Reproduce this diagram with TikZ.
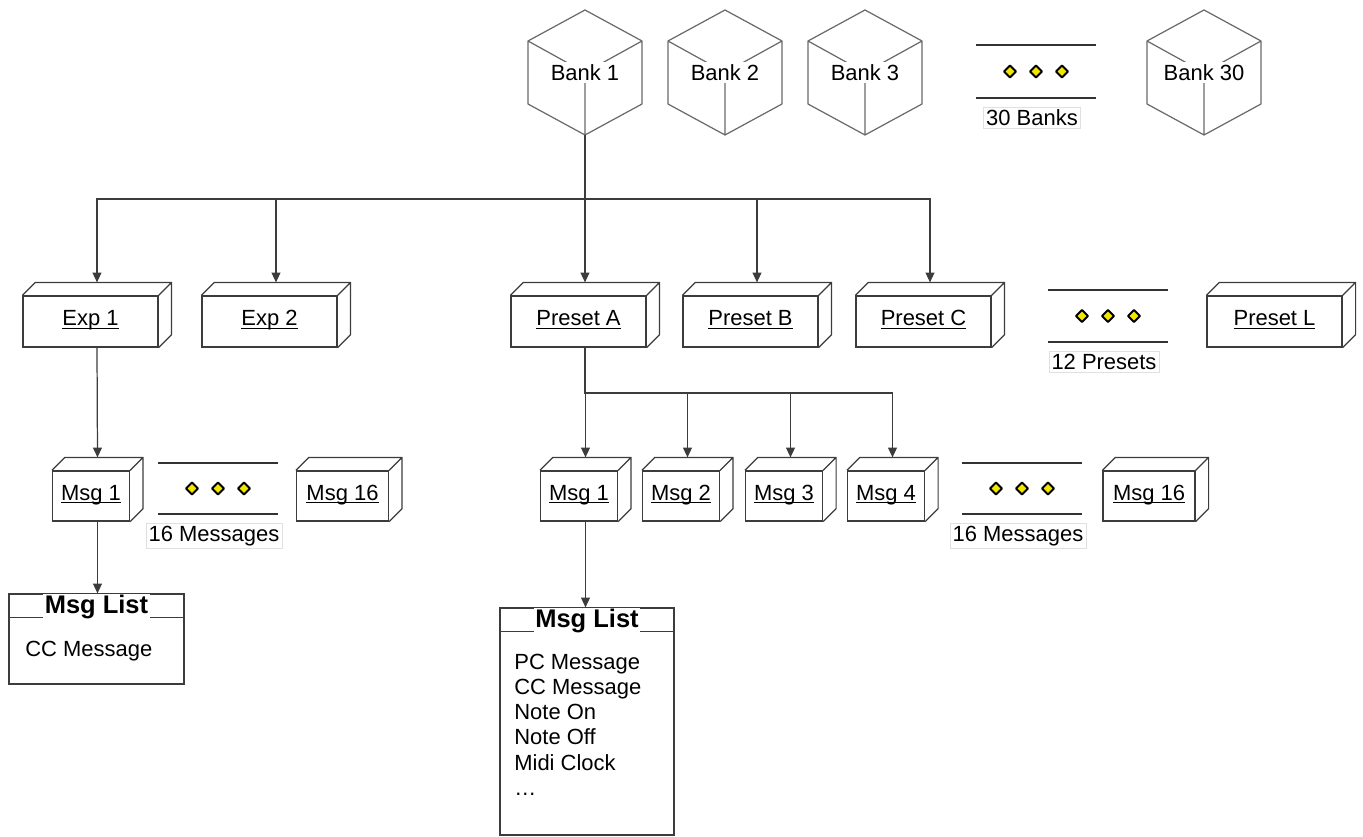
\documentclass[tikz,border=0pt]{standalone}
\usepackage{fontspec}
\setmainfont{Liberation Sans}
\usetikzlibrary{calc,arrows.meta}

\definecolor{edge}{HTML}{3C3C3C}
\definecolor{cubeedge}{HTML}{6A6A6A}
\definecolor{dotfill}{HTML}{F2E600}
\newcommand\bdepth{13}
\newcommand\ul[1]{\underline{\raisebox{0pt}[\height][0pt]{#1}}\rule[-4pt]{0pt}{4pt}}

\tikzset{
  box3d/.style={draw=edge, fill=white, line width=0.7pt, inner sep=0pt, minimum height=1.02cm},
  bigbox/.style={box3d, minimum width=2.7cm},
  msgbox/.style={box3d, minimum width=1.54cm, minimum height=1cm},
  listbox/.style={draw=edge, line width=0.7pt, inner sep=0pt},
  conn/.style={draw=edge, line width=0.7pt, -{Triangle[length=5.5pt,width=5pt]}},
  bus/.style={draw=edge, line width=1.1pt},
  countlabel/.style={draw=black!12, fill=white, inner sep=1.5pt},
  listtitle/.style={fill=white, font=\fontsize{14.5}{17}\selectfont\bfseries, inner sep=1pt},
  listitem/.style={anchor=base west, inner sep=0pt},
}

\begin{document}
\begin{tikzpicture}[x=0.02cm, y=-0.02cm, every node/.style={font=\fontsize{12.5}{15}\selectfont}]
  \useasboundingbox (0,0) rectangle (1363,837);

  % Banks (cubes)
  \foreach \x/\name/\txt in {585/bank1/Bank 1, 725/bank2/Bank 2, 865/bank3/Bank 3, 1204/bank30/Bank 30}{
    \draw[cubeedge, line width=0.7pt, line join=round]
      (\x,10) -- (\x+57,41) -- (\x+57,104) -- (\x,135) -- (\x-57,104) -- (\x-57,41) -- cycle
      (\x-57,41) -- (\x,72.5) -- (\x+57,41) (\x,72.5) -- (\x,135);
    \node[fill=white, inner sep=1.5pt] (\name) at (\x,72.5) {\txt};
    \coordinate (\name-base) at (\x,135);
  }

  % Ellipsis markers with counts
  \foreach \x/\yt/\yb/\n/\txt in {1036/45/98/banks/30 Banks, 1108/290/342/presets/12 Presets,
                                 218/463/514/msgsL/16 Messages, 1022/463/514/msgsR/16 Messages}{
    \draw[line width=1.2pt, black!80] (\x-60,\yt) -- (\x+60,\yt) (\x-60,\yb) -- (\x+60,\yb);
    \foreach \dx in {-26,0,26}
      \draw[fill=dotfill, line width=1.1pt, line join=round] (\x+\dx,{(\yt+\yb)/2-6}) -- ++(6,6) -- ++(-6,6) -- ++(-6,-6) -- cycle;
    \node[countlabel, anchor=north] (\n) at (\x-4,\yb+9) {\txt};
  }

  % Expression and preset boxes
  \node[bigbox] (exp1) at (90.5,321.5) {\ul{Exp 1}};
  \node[bigbox] (exp2) at (269.5,321.5) {\ul{Exp 2}};
  \node[bigbox] (presetA) at (578.5,321.5) {\ul{Preset A}};
  \node[bigbox] (presetB) at (750.5,321.5) {\ul{Preset B}};
  \node[bigbox] (presetC) at (923.5,321.5) {\ul{Preset C}};
  \node[bigbox] (presetL) at (1274.5,321.5) {\ul{Preset L}};

  % Message boxes
  \node[msgbox] (msgL1) at (91,496) {\ul{Msg 1}};
  \node[msgbox, minimum width=1.84cm] (msgL16) at (342.5,496) {\ul{Msg 16}};
  \node[msgbox] (msgR1) at (579,496) {\ul{Msg 1}};
  \node[msgbox] (msgR2) at (681,496) {\ul{Msg 2}};
  \node[msgbox] (msgR3) at (784,496) {\ul{Msg 3}};
  \node[msgbox] (msgR4) at (886,496) {\ul{Msg 4}};
  \node[msgbox, minimum width=1.84cm] (msgR16) at (1149,496) {\ul{Msg 16}};

  % depth of the boxes
  \foreach \n in {exp1,exp2,presetA,presetB,presetC,presetL,msgL1,msgL16,msgR1,msgR2,msgR3,msgR4,msgR16}{
    \draw[edge, line width=0.7pt, line join=round]
      (\n.north west) -- ++(\bdepth,-\bdepth) -- ($(\n.north east)+(\bdepth,-\bdepth)$)
      -- ($(\n.south east)+(\bdepth,-\bdepth)$) -- (\n.south east)
      (\n.north east) -- ++(\bdepth,-\bdepth);
    \coordinate (\n-top) at ($(\n.north)+(\bdepth/2,-\bdepth)$);
    \coordinate (\n-bot) at ($(\n.south)+(\bdepth/2,0)$);
  }

  % Message lists
  \node[listbox, minimum width=3.5cm, minimum height=1.8cm] (listL) at (96.5,639) {};
  \draw[edge, line width=0.7pt] ($(listL.north west)+(0,24)$) -- ($(listL.north east)+(0,24)$);
  \node[listtitle] (listL-title) at ($(listL.north)+(0,14)$) {Msg List};
  \node[listitem] (listL-cc) at (25,657) {CC Message};

  \node[listbox, minimum width=3.48cm, minimum height=4.54cm] (listR) at (587,721.5) {};
  \draw[edge, line width=0.7pt] ($(listR.north west)+(0,24)$) -- ($(listR.north east)+(0,24)$);
  \node[listtitle] (listR-title) at ($(listR.north)+(0,14)$) {Msg List};
  \foreach \t [count=\i] in {PC Message, CC Message, Note On, Note Off, Midi Clock, \ldots}
    \node[listitem] (itemR\i) at (514,{669+25.3*(\i-1)}) {\t};

  % Connectors
  \coordinate (busTop) at (585,199);
  \draw[bus] (bank1-base) -- (busTop);
  \draw[bus] (exp1-top |- busTop) -- (presetC-top |- busTop);
  \foreach \n in {exp1,exp2,presetA,presetB,presetC}
    \draw[conn] (busTop) -| (\n-top);

  \coordinate (busPre) at ($(presetA-bot)+(0,45)$);
  \draw[bus] (presetA-bot) -- (busPre) -- (busPre -| msgR4-top);
  \foreach \n in {msgR1,msgR2,msgR3,msgR4}
    \draw[conn] (busPre) -| (\n-top);

  \draw[conn] (exp1-bot) -- (msgL1-top);
  \draw[conn] (msgL1-bot) -- (msgL1-bot |- listL.north);
  \draw[conn] (msgR1-bot) -- (msgR1-bot |- listR.north);
\end{tikzpicture}
\end{document}
